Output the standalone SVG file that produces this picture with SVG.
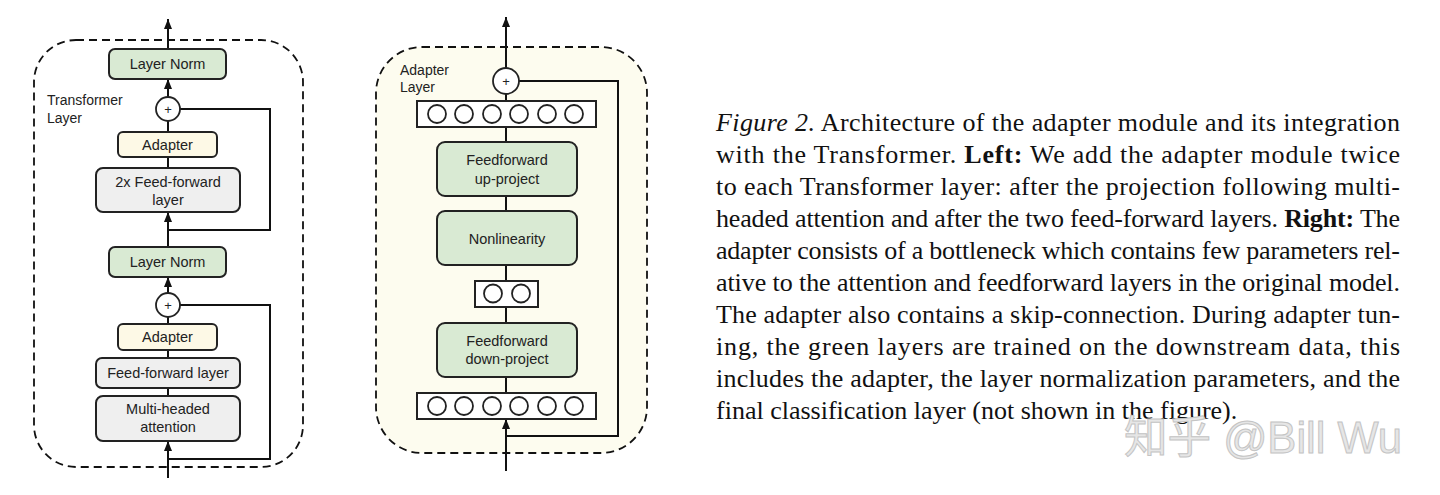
<svg xmlns="http://www.w3.org/2000/svg" width="1440" height="495" viewBox="0 0 1440 495">
<defs>
<marker id="ah" viewBox="0 0 10 10" refX="10" refY="5" markerWidth="10" markerHeight="8" markerUnits="userSpaceOnUse" orient="auto" preserveAspectRatio="none">
<path d="M0,0 L10,5 L0,10 z" fill="#111"/>
</marker>
<style>
.frame{fill:none;stroke:#111;stroke-width:1.8;stroke-dasharray:8 5}
.box{stroke:#222;stroke-width:2}
.green{fill:#d9ead3}
.yellow{fill:#fdf9e6}
.gray{fill:#efefef}
.vec{fill:#fff;stroke:#222;stroke-width:2}
.unit{fill:#fff;stroke:#222;stroke-width:1.8}
.lbl{font-family:"Liberation Sans",Arial,sans-serif;font-size:14.5px;fill:#222;text-anchor:middle}
.side{font-family:"Liberation Sans",Arial,sans-serif;font-size:14px;fill:#222}
.plus{font-family:"Liberation Sans",Arial,sans-serif;font-size:13px;fill:#222;text-anchor:middle}
.wire{fill:none;stroke:#111;stroke-width:2}
.cap{font-family:"Liberation Serif","Times New Roman",serif;font-size:26px;fill:#111}
.wm{font-family:"Liberation Sans","Noto Sans CJK SC",sans-serif;font-size:44px;fill:#e6e6e6;stroke:#c4c4c4;stroke-width:1}
</style>
</defs>

<!-- Left: Transformer layer -->
<g id="transformer-layer">
<rect class="frame" x="34" y="40" width="269" height="427" rx="42"/>
<text class="side" x="47" y="105">Transformer</text>
<text class="side" x="47" y="123">Layer</text>
</g>

<g id="connectors">
<line class="wire" x1="168" y1="49" x2="168" y2="19" marker-end="url(#ah)"/>
<line class="wire" x1="168" y1="97" x2="168" y2="79" marker-end="url(#ah)"/>
<line class="wire" x1="168" y1="132" x2="168" y2="121"/>
<line class="wire" x1="168" y1="168" x2="168" y2="157"/>
<line class="wire" x1="168" y1="247" x2="168" y2="212" marker-end="url(#ah)"/>
<polyline class="wire" points="180,109 270,109 270,230 168,230"/>
<line class="wire" x1="168" y1="293" x2="168" y2="277" marker-end="url(#ah)"/>
<line class="wire" x1="168" y1="324" x2="168" y2="317"/>
<line class="wire" x1="168" y1="358" x2="168" y2="350"/>
<line class="wire" x1="168" y1="396" x2="168" y2="388"/>
<line class="wire" x1="168" y1="478" x2="168" y2="441" marker-end="url(#ah)"/>
<polyline class="wire" points="180,305 270,305 270,459 168,459"/>
</g>

<g id="layer-norm-top">
<rect class="box green" x="109" y="49" width="117" height="30" rx="6"/>
<text class="lbl" x="167.5" y="69">Layer Norm</text>
</g>
<g id="add-top">
<circle class="unit" cx="168" cy="109" r="12"/>
<text class="plus" x="168" y="114">+</text>
</g>
<g id="adapter-top">
<rect class="box yellow" x="118" y="132" width="99" height="25" rx="5"/>
<text class="lbl" x="167.5" y="150">Adapter</text>
</g>
<g id="ffn2x">
<rect class="box gray" x="96" y="168" width="144" height="44" rx="7"/>
<text class="lbl" x="168" y="187">2x Feed-forward</text>
<text class="lbl" x="168" y="205">layer</text>
</g>
<g id="layer-norm-bottom">
<rect class="box green" x="109" y="247" width="117" height="30" rx="6"/>
<text class="lbl" x="167.5" y="267">Layer Norm</text>
</g>
<g id="add-bottom">
<circle class="unit" cx="168" cy="305" r="12"/>
<text class="plus" x="168" y="310">+</text>
</g>
<g id="adapter-bottom">
<rect class="box yellow" x="118" y="324" width="99" height="26" rx="5"/>
<text class="lbl" x="167.5" y="342">Adapter</text>
</g>
<g id="ffn">
<rect class="box gray" x="96" y="358" width="144" height="30" rx="6"/>
<text class="lbl" x="168" y="378">Feed-forward layer</text>
</g>
<g id="mha">
<rect class="box gray" x="96" y="396" width="144" height="45" rx="7"/>
<text class="lbl" x="168" y="414">Multi-headed</text>
<text class="lbl" x="168" y="432">attention</text>
</g>

<!-- Right: Adapter layer -->
<g id="adapter-layer">
<rect x="376" y="47" width="271" height="406" rx="46" fill="#fdfcef" stroke="none"/>
<rect class="frame" x="376" y="47" width="271" height="406" rx="46"/>
<text class="side" x="400" y="75">Adapter</text>
<text class="side" x="400" y="92">Layer</text>
</g>

<g id="connectors-right">
<line class="wire" x1="506" y1="68" x2="506" y2="17" marker-end="url(#ah)"/>
<polyline class="wire" points="519,81 618,81 618,436 506,436"/>
<line class="wire" x1="506" y1="471" x2="506" y2="419" marker-end="url(#ah)"/>
<line class="wire" x1="506" y1="101" x2="506" y2="94"/>
<line class="wire" x1="506" y1="142" x2="506" y2="127"/>
<line class="wire" x1="506" y1="211" x2="506" y2="196"/>
<line class="wire" x1="506" y1="281" x2="506" y2="265"/>
<line class="wire" x1="506" y1="323" x2="506" y2="307"/>
<line class="wire" x1="506" y1="393" x2="506" y2="377"/>
</g>

<g id="add-adapter">
<circle class="unit" cx="506" cy="81" r="13"/>
<text class="plus" x="506" y="86">+</text>
</g>
<g id="vec-top">
<rect class="vec" x="417" y="101" width="179" height="26"/>
<circle class="unit" cx="437" cy="114" r="9"/>
<circle class="unit" cx="464" cy="114" r="9"/>
<circle class="unit" cx="492" cy="114" r="9"/>
<circle class="unit" cx="519" cy="114" r="9"/>
<circle class="unit" cx="547" cy="114" r="9"/>
<circle class="unit" cx="574" cy="114" r="9"/>
</g>
<g id="up-project">
<rect class="box green" x="437" y="142" width="140" height="54" rx="8"/>
<text class="lbl" x="507" y="165">Feedforward</text>
<text class="lbl" x="507" y="184">up-project</text>
</g>
<g id="nonlinearity">
<rect class="box green" x="437" y="211" width="140" height="54" rx="8"/>
<text class="lbl" x="507" y="244">Nonlinearity</text>
</g>
<g id="vec-mid">
<rect class="vec" x="475" y="281" width="63" height="26"/>
<circle class="unit" cx="493" cy="293.5" r="9"/>
<circle class="unit" cx="521" cy="293.5" r="9"/>
</g>
<g id="down-project">
<rect class="box green" x="437" y="323" width="140" height="54" rx="8"/>
<text class="lbl" x="507" y="346">Feedforward</text>
<text class="lbl" x="507" y="364">down-project</text>
</g>
<g id="vec-bottom">
<rect class="vec" x="417" y="393" width="179" height="26"/>
<circle class="unit" cx="437" cy="406" r="9"/>
<circle class="unit" cx="464" cy="406" r="9"/>
<circle class="unit" cx="492" cy="406" r="9"/>
<circle class="unit" cx="519" cy="406" r="9"/>
<circle class="unit" cx="547" cy="406" r="9"/>
<circle class="unit" cx="574" cy="406" r="9"/>
</g>

<!-- Caption -->
<g id="caption">
<text class="cap" x="716" y="131" textLength="684" lengthAdjust="spacing"><tspan font-style="italic">Figure 2.</tspan> Architecture of the adapter module and its integration</text>
<text class="cap" x="716" y="163" textLength="684" lengthAdjust="spacing">with the Transformer. <tspan font-weight="bold">Left:</tspan> We add the adapter module twice</text>
<text class="cap" x="716" y="195" textLength="684" lengthAdjust="spacing">to each Transformer layer: after the projection following multi-</text>
<text class="cap" x="716" y="227" textLength="684" lengthAdjust="spacing">headed attention and after the two feed-forward layers. <tspan font-weight="bold">Right:</tspan> The</text>
<text class="cap" x="716" y="259" textLength="684" lengthAdjust="spacing">adapter consists of a bottleneck which contains few parameters rel-</text>
<text class="cap" x="716" y="291" textLength="684" lengthAdjust="spacing">ative to the attention and feedforward layers in the original model.</text>
<text class="cap" x="716" y="323" textLength="684" lengthAdjust="spacing">The adapter also contains a skip-connection. During adapter tun-</text>
<text class="cap" x="716" y="355" textLength="684" lengthAdjust="spacing">ing, the green layers are trained on the downstream data, this</text>
<text class="cap" x="716" y="387" textLength="684" lengthAdjust="spacing">includes the adapter, the layer normalization parameters, and the</text>
<text class="cap" x="716" y="419">final classification layer (not shown in the figure).</text>
</g>

<g id="watermark">
<text class="wm" x="1124" y="453" textLength="278" lengthAdjust="spacingAndGlyphs">知乎 @Bill Wu</text>
</g>
</svg>
